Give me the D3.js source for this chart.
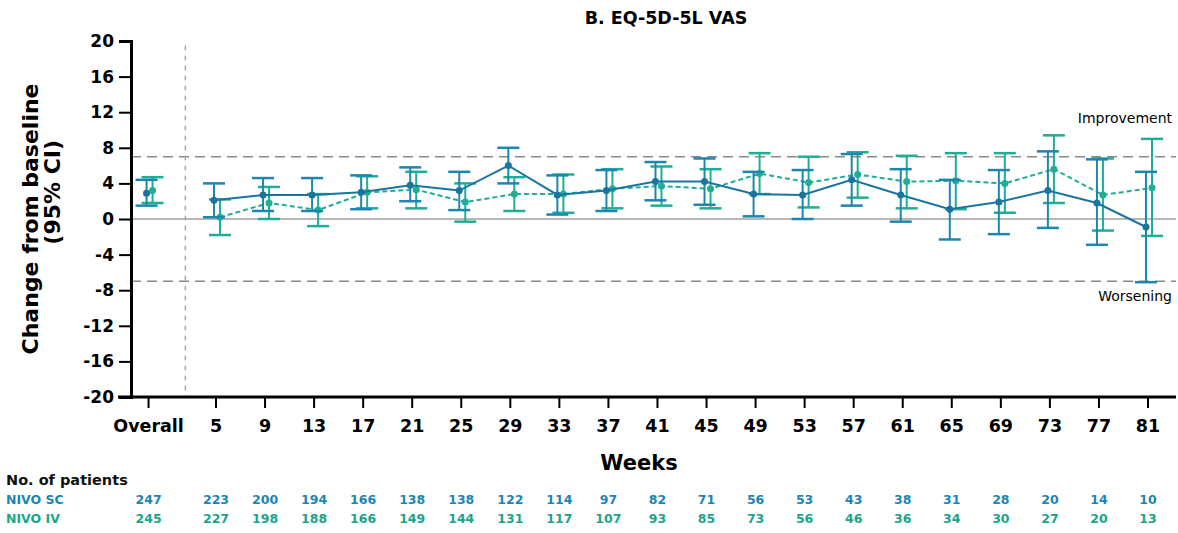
<!DOCTYPE html>
<html>
<head>
<meta charset="utf-8">
<script src="https://cdn.jsdelivr.net/npm/d3@7"></script>
<style>
  body { margin: 0; background: #fff; }
  text { font-family: "DejaVu Sans", sans-serif; }
</style>
</head>
<body>
<div id="chart"></div>
<script>
// categories on the x axis ("Overall" is drawn left of the week ticks)
const categories = ["Overall", 5, 9, 13, 17, 21, 25, 29, 33, 37, 41, 45, 49, 53, 57, 61, 65, 69, 73, 77, 81];

// NIVO SC: mean change and 95% CI
const scMean = [2.9, 2.1, 2.7, 2.7, 3.0, 3.8, 3.2, 6.0, 2.7, 3.2, 4.2, 4.2, 2.8, 2.7, 4.4, 2.7, 1.1, 1.9, 3.2, 1.8, -0.9];
const scLow  = [1.5, 0.2, 0.9, 0.9, 1.1, 2.0, 1.0, 4.0, 0.5, 0.9, 2.1, 1.6, 0.3, 0.0, 1.5, -0.3, -2.3, -1.7, -1.0, -2.9, -7.1];
const scHigh = [4.4, 4.0, 4.6, 4.6, 4.9, 5.8, 5.3, 8.0, 4.9, 5.5, 6.4, 6.8, 5.3, 5.5, 7.3, 5.6, 4.4, 5.5, 7.6, 6.7, 5.3];

// NIVO IV: mean change and 95% CI
const ivMean = [3.2, 0.2, 1.8, 1.0, 3.0, 3.3, 1.9, 2.8, 2.8, 3.4, 3.7, 3.4, 5.1, 4.1, 5.0, 4.2, 4.3, 4.0, 5.6, 2.7, 3.5];
const ivLow  = [1.8, -1.8, 0.0, -0.8, 1.2, 1.2, -0.3, 0.9, 0.7, 1.2, 1.5, 1.2, 2.8, 1.3, 2.4, 1.2, 1.1, 0.7, 1.8, -1.3, -1.9];
const ivHigh = [4.7, 2.2, 3.6, 2.8, 4.8, 5.3, 4.0, 4.7, 5.0, 5.6, 5.9, 5.6, 7.4, 7.0, 7.5, 7.1, 7.4, 7.4, 9.4, 6.8, 9.0];

// number of patients
const scN = [247, 223, 200, 194, 166, 138, 138, 122, 114, 97, 82, 71, 56, 53, 43, 38, 31, 28, 20, 14, 10];
const ivN = [245, 227, 198, 188, 166, 149, 144, 131, 117, 107, 93, 85, 73, 56, 46, 36, 34, 30, 27, 20, 13];

const yTicks = [20, 16, 12, 8, 4, 0, -4, -8, -12, -16, -20];
const mcid = 7; // improvement / worsening threshold

const width = 1178, height = 533;
const scColor = "#1a74a0";
const scBarColor = "#1d86ae";
const ivColor = "#1fae95";

const svg = d3.select("#chart").append("svg")
    .attr("width", width)
    .attr("height", height);

// weeks on a linear scale, Overall placed at week -0.5
const xWeek = d3.scaleLinear().domain([5, 81]).range([216, 1148]);
const xCat = c => c === "Overall" ? xWeek(-0.5) : xWeek(c);
const y = d3.scaleLinear().domain([-20, 20]).range([397, 41]);

const left = 131, right = 1176;

// title
svg.append("text")
    .attr("x", 666).attr("y", 24)
    .attr("text-anchor", "middle")
    .style("font-size", "17.5px").style("font-weight", "bold")
    .text("B. EQ-5D-5L VAS");

// reference lines
svg.append("line")
    .attr("x1", left).attr("x2", right)
    .attr("y1", y(0)).attr("y2", y(0))
    .attr("stroke", "#a0a0a0").attr("stroke-width", 1.5);

[mcid, -mcid].forEach(v => {
    svg.append("line")
        .attr("x1", left).attr("x2", right)
        .attr("y1", y(v)).attr("y2", y(v))
        .attr("stroke", "#8a8a8a").attr("stroke-width", 1.5)
        .attr("stroke-dasharray", "10,6");
});

// separator between overall and weeks
svg.append("line")
    .attr("x1", xWeek(2.5)).attr("x2", xWeek(2.5))
    .attr("y1", y(19.5)).attr("y2", y(-20))
    .attr("stroke", "#aaa").attr("stroke-width", 1.5)
    .attr("stroke-dasharray", "5,5");

svg.append("text")
    .attr("x", 1172).attr("y", y(10.8))
    .attr("text-anchor", "end")
    .style("font-size", "14px").attr("fill", "#000")
    .text("Improvement");

svg.append("text")
    .attr("x", 1172).attr("y", y(-9.2))
    .attr("text-anchor", "end")
    .style("font-size", "14px").attr("fill", "#000")
    .text("Worsening");

// axes
const yAxis = svg.append("g")
    .attr("transform", `translate(${left},0)`)
    .call(d3.axisLeft(y).tickValues(yTicks).tickSize(12).tickPadding(5).tickFormat(d => String(d)));

const xAxis = svg.append("g")
    .attr("transform", `translate(0,${y(-20)})`)
    .call(d3.axisBottom(xWeek).tickValues([]).tickSizeOuter(0));
xAxis.select(".domain").attr("d", `M${left - 13},0H${right}`);

const xt = xAxis.selectAll(".xt")
    .data(categories)
    .enter().append("g")
    .attr("class", "xt")
    .attr("transform", d => `translate(${xCat(d)},0)`);
xt.append("line").attr("y2", 11).attr("stroke", "#000").attr("stroke-width", 2);
xt.append("text")
    .attr("y", 35)
    .attr("text-anchor", "middle")
    .attr("fill", "#000")
    .style("font-size", "17.5px").style("font-weight", "bold")
    .text(d => d);

[yAxis, xAxis].forEach(g => {
    g.select(".domain").attr("stroke", "#000").attr("stroke-width", 3);
    g.selectAll(".tick line").attr("stroke", "#000").attr("stroke-width", 2);
    g.selectAll(".tick text")
        .attr("fill", "#000")
        .style("font-size", "17px").style("font-weight", "bold");
});

svg.append("text")
    .attr("x", 639).attr("y", 470)
    .attr("text-anchor", "middle")
    .style("font-size", "21px").style("font-weight", "bold")
    .text("Weeks");

svg.append("text")
    .attr("transform", `translate(38,${y(0)}) rotate(-90)`)
    .attr("text-anchor", "middle")
    .style("font-size", "22px").style("font-weight", "bold")
    .text("Change from baseline");
svg.append("text")
    .attr("transform", `translate(60,${y(3)}) rotate(-90)`)
    .attr("text-anchor", "middle")
    .style("font-size", "22px").style("font-weight", "bold")
    .text("(95% CI)");

// series
function drawSeries(mean, low, high, color, barColor, dx, dash) {
    const pts = categories.map((c, i) => ({ c, i, m: mean[i], lo: low[i], hi: high[i] }));
    const g = svg.append("g");
    const line = d3.line()
        .x(d => xCat(d.c) + dx)
        .y(d => y(d.m));
    // connect weekly points only
    g.append("path")
        .datum(pts.slice(1))
        .attr("d", line)
        .attr("fill", "none")
        .attr("stroke", color).attr("stroke-width", 2)
        .attr("stroke-dasharray", dash);

    const bars = g.selectAll(".bar").data(pts).enter().append("g")
        .attr("transform", d => `translate(${xCat(d.c) + dx},0)`);
    bars.append("line")
        .attr("y1", d => y(d.lo)).attr("y2", d => y(d.hi))
        .attr("stroke", barColor).attr("stroke-width", 2);
    bars.append("line")
        .attr("x1", -11).attr("x2", 11)
        .attr("y1", d => y(d.hi)).attr("y2", d => y(d.hi))
        .attr("stroke", barColor).attr("stroke-width", 2.5);
    bars.append("line")
        .attr("x1", -11).attr("x2", 11)
        .attr("y1", d => y(d.lo)).attr("y2", d => y(d.lo))
        .attr("stroke", barColor).attr("stroke-width", 2.5);
    bars.append("circle")
        .attr("cy", d => y(d.m)).attr("r", 3.5)
        .attr("fill", color);
}

drawSeries(ivMean, ivLow, ivHigh, ivColor, ivColor, 4, "5,3");
drawSeries(scMean, scLow, scHigh, scColor, scBarColor, -2, null);

// number of patients table
svg.append("text")
    .attr("x", 6).attr("y", 485)
    .style("font-size", "14.5px").style("font-weight", "bold").attr("fill", "#111")
    .text("No. of patients");

const rows = [
    { name: "NIVO SC", n: scN, color: "#1a86b3", y: 504 },
    { name: "NIVO IV", n: ivN, color: "#1aa58a", y: 523 }
];
rows.forEach(r => {
    svg.append("text")
        .attr("x", 6).attr("y", r.y)
        .style("font-size", "12.5px").style("font-weight", "bold").attr("fill", r.color)
        .text(r.name);
    svg.selectAll(null).data(r.n).enter().append("text")
        .attr("x", (d, i) => xCat(categories[i]))
        .attr("y", r.y)
        .attr("text-anchor", "middle")
        .style("font-size", "12.5px").style("font-weight", "bold").attr("fill", r.color)
        .text(d => d);
});
</script>
</body>
</html>
